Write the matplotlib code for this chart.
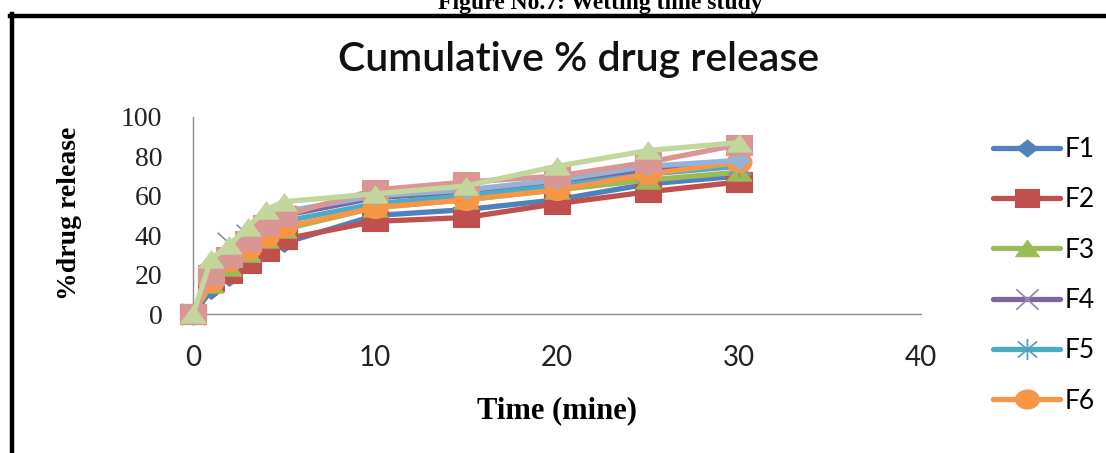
import numpy as np
import matplotlib
matplotlib.use("Agg")
import matplotlib.pyplot as plt
from matplotlib.path import Path
from matplotlib.lines import Line2D

# ---------------- data ----------------
time_min = [0, 1, 2, 3, 4, 5, 10, 15, 20, 25, 30]
F1 = [0, 12, 19, 27, 32, 36, 50, 53, 58, 66, 70]
F2 = [0, 17, 21, 26, 32, 38, 47, 49, 56, 62, 67]
F3 = [0, 15, 24, 31, 38, 43, 54, 58, 63, 68, 72]
F4 = [0, 20, 36, 40, 44, 50, 59, 62, 67, 73, 76]
F5 = [0, 18, 28, 35, 41, 47, 56, 60, 65, 71, 75]
F6 = [0, 16, 27, 33, 39, 44, 54, 58, 63, 71, 77]
F7 = [0, 22, 31, 38, 44, 52, 60, 63, 68, 75, 78]
F8 = [0, 20, 29, 37, 45, 50, 63, 67, 70, 77, 86]
F9 = [0, 28, 35, 44, 53, 57, 61, 65, 75, 83, 87]
series_names = ["F1", "F2", "F3", "F4", "F5", "F6", "F7", "F8", "F9"]
series_values = [F1, F2, F3, F4, F5, F6, F7, F8, F9]
legend_shown = ["F1", "F2", "F3", "F4", "F5", "F6"]
x_ticks = [0, 10, 20, 30, 40]
y_ticks = [0, 20, 40, 60, 80, 100]

title_text = "Cumulative % drug release"
xlabel_text = "Time (mine)"
ylabel_text = "%drug release"
header_text = "Figure No.7: Wetting time study"

# ---------------- styles ----------------
colors = ["#4F81BD", "#C0504D", "#9BBB59", "#8064A2", "#4BACC6", "#F79646",
          "#95B3D7", "#D99694", "#C3D69B"]


def diamond(sx):
    return Path([(0, 1), (sx, 0), (0, -1), (-sx, 0), (0, 1)],
                [Path.MOVETO, Path.LINETO, Path.LINETO, Path.LINETO, Path.CLOSEPOLY])


def square(sx):
    return Path([(-sx, -1), (sx, -1), (sx, 1), (-sx, 1), (-sx, -1)],
                [Path.MOVETO, Path.LINETO, Path.LINETO, Path.LINETO, Path.CLOSEPOLY])


def triangle(sx):
    return Path([(0, 1), (sx, -1), (-sx, -1), (0, 1)],
                [Path.MOVETO, Path.LINETO, Path.LINETO, Path.CLOSEPOLY])


def xmark(sx):
    return Path([(-sx, -1), (sx, 1), (-sx, 1), (sx, -1)],
                [Path.MOVETO, Path.LINETO, Path.MOVETO, Path.LINETO])


def star(sx):
    return Path([(-sx, -0.8), (sx, 0.8), (-sx, 0.8), (sx, -0.8), (0, -1.05), (0, 1.05)],
                [Path.MOVETO, Path.LINETO, Path.MOVETO, Path.LINETO, Path.MOVETO, Path.LINETO])


def ellipse(sx):
    c = Path.unit_circle()
    v = c.vertices.copy()
    v[:, 0] *= sx
    return Path(v, c.codes)


markers = [diamond(1.25), square(1.3), triangle(1.45), xmark(1.1), star(0.95),
           ellipse(1.25), diamond(1.25), square(1.3), triangle(1.45)]
msizes = [16, 18.5, 18, 17, 16, 18, 16, 18.5, 18]
filled = [True, True, True, False, False, True, True, True, True]
line_x_colors = {3: "#9A8BB5", 4: "#5B9FC0"}

W, H = 1106, 453
fig = plt.figure(figsize=(W / 100, H / 100), dpi=100)
fig.patch.set_facecolor("white")

ax = fig.add_axes([193 / W, 1 - 314 / H, (921 - 193) / W, (314 - 117) / H])
ax.set_facecolor("white")

handles = []
for i, (name, vals) in enumerate(zip(series_names, series_values)):
    c = colors[i]
    if filled[i]:
        kw = dict(markerfacecolor=c, markeredgecolor=c, markeredgewidth=0.8)
    else:
        kw = dict(markerfacecolor="none", markeredgecolor=line_x_colors[i],
                  markeredgewidth=1.3)
    ln, = ax.plot(time_min, vals, color=c, lw=3.8, marker=markers[i],
                  markersize=msizes[i], clip_on=False, solid_capstyle="round",
                  solid_joinstyle="round", label=name, zorder=2 + i, **kw)
    handles.append(ln)

ax.set_xlim(0, 40)
ax.set_ylim(0, 100)
ax.set_xticks(x_ticks)
ax.set_yticks(y_ticks)
ax.tick_params(axis="both", length=0)
ax.tick_params(axis="y", pad=22)
ax.tick_params(axis="x", pad=22)
for lab in ax.get_yticklabels():
    lab.set_fontfamily("Liberation Serif")
    lab.set_fontsize(20)
    lab.set_color("#222222")
for lab in ax.get_xticklabels():
    lab.set_fontfamily("Lato")
    lab.set_fontsize(20)
    lab.set_color("#222222")

for s in ["top", "right"]:
    ax.spines[s].set_visible(False)
for s in ["left", "bottom"]:
    ax.spines[s].set_color("#8C8C8C")
    ax.spines[s].set_linewidth(1.0)
    ax.spines[s].set_zorder(1)

# axis labels
fig.text(557 / W, 1 - 411 / H, xlabel_text, ha="center", va="center",
         fontfamily="Liberation Serif", fontweight="bold", fontsize=22)
fig.text(70 / W, 1 - 213 / H, ylabel_text, ha="center", va="center", rotation=90,
         fontfamily="Liberation Serif", fontweight="bold", fontsize=20)

# chart title
fig.text(579 / W, 1 - 60 / H, title_text, ha="center", va="center",
         fontfamily="Lato", fontweight="semibold", fontsize=29.5, color="#111111")

# cut-off header (cropped at the top edge, as in the reference)
fig.text(600 / W, 1 - 9 / H, header_text, ha="center", va="baseline",
         fontfamily="Liberation Serif", fontweight="bold", fontsize=17)

# page frame
fig.add_artist(Line2D([11.5 / W, 11.5 / W], [0, 1 - 14 / H], color="black", lw=3.2,
                      transform=fig.transFigure, solid_capstyle="projecting"))
fig.add_artist(Line2D([10 / W, 1], [1 - 16 / H, 1 - 16 / H], color="black", lw=3.2,
                      transform=fig.transFigure, solid_capstyle="projecting"))

# legend
shown = [h for h in handles if h.get_label() in legend_shown]
leg = fig.legend(handles=shown, loc="upper left",
                 bbox_to_anchor=(993 / W, 1 - 137 / H), frameon=False,
                 prop={"family": "Lato", "size": 19}, handlelength=2.55,
                 handletextpad=0.15, labelspacing=0.96, borderpad=0,
                 borderaxespad=0, markerscale=0.95)

fig.savefig("out.png", dpi=100)
